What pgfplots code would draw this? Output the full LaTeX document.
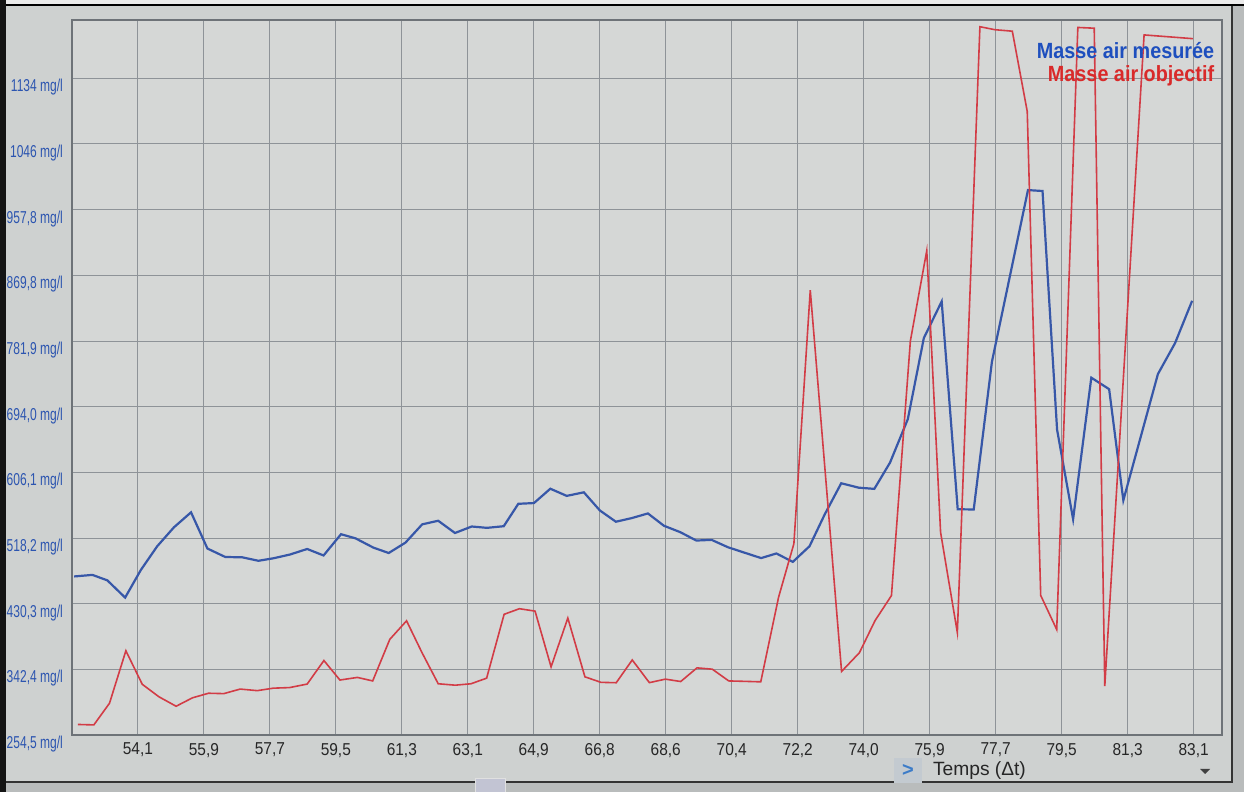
\documentclass[border=0pt]{standalone}
\usepackage{fontspec}
\setmainfont{Liberation Sans}
\usepackage{graphicx}
\usepackage{pgfplots}
\pgfplotsset{compat=1.18}
\definecolor{outerc}{HTML}{B9BCBC}
\definecolor{bgout}{HTML}{CED1D0}
\definecolor{bgplot}{HTML}{D5D7D6}
\definecolor{gridc}{HTML}{8E9398}
\definecolor{framec}{HTML}{6E7378}
\definecolor{lblue}{HTML}{3757A8}
\definecolor{tblue}{HTML}{1E4FBE}
\definecolor{lred}{HTML}{D23C46}
\definecolor{tred}{HTML}{D92A2A}
\definecolor{ylab}{HTML}{2C55B0}
\definecolor{chevbox}{HTML}{C3CAD0}
\definecolor{chev}{HTML}{3C7CC8}
\newcommand{\cy}[1]{\scalebox{0.7}[1]{#1}}
\newcommand{\cx}[1]{\scalebox{0.9}[1]{#1}}
\begin{document}
\begin{tikzpicture}[x=1pt,y=1pt]
\fill[outerc] (0,0) rectangle (622,396);
\useasboundingbox (0,0) rectangle (622,396);
\fill[bgout] (3,5) rectangle (616,393);
\fill[black!8] (0,394) rectangle (622,396);
\draw[black!80, line width=0.8pt] (3,5) -- (616,5) -- (616,393);
\draw[black, line width=1pt] (0,393.5) -- (622,393.5);
\fill[black!92] (0,0) rectangle (3,396);
\begin{axis}[
  at={(36pt,28.5pt)}, anchor=south west, scale only axis,
  width=575pt, height=357.5pt,
  xmin=52.29, xmax=83.88, ymin=254.5, ymax=1212,
  axis background/.style={fill=bgplot},
  axis line style={draw=framec, line width=0.7pt},
  grid=major,
  major grid style={draw=gridc, line width=0.45pt},
  major tick length=0pt,
  xtick={54.1,55.9125,57.725,59.5375,61.35,63.1625,64.975,66.7875,68.6,70.4125,72.225,74.0375,75.85,77.6625,79.475,81.2875,83.1},
  xticklabels={\cx{54,1},\cx{55,9},\cx{57,7},\cx{59,5},\cx{61,3},\cx{63,1},\cx{64,9},\cx{66,8},\cx{68,6},\cx{70,4},\cx{72,2},\cx{74,0},\cx{75,9},\cx{77,7},\cx{79,5},\cx{81,3},\cx{83,1}},
  ytick={254.5,342.4,430.3,518.2,606.1,694.0,781.9,869.8,957.8,1046,1134},
  yticklabels={\cy{254,5 mg/l},\cy{342,4 mg/l},\cy{430,3 mg/l},\cy{518,2 mg/l},\cy{606,1 mg/l},\cy{694,0 mg/l},\cy{781,9 mg/l},\cy{869,8 mg/l},\cy{957,8 mg/l},\cy{1046 mg/l},\cy{1134 mg/l}},
  xticklabel style={text=black!85, font=\fontsize{8.6}{9}\selectfont, yshift=-0.5pt},
  yticklabel style={text=ylab, font=\fontsize{8.6}{9}\selectfont, anchor=east, xshift=-1pt, yshift=-4.5pt},
  legend style={draw=none, fill=none, at={(0.997,0.975)}, anchor=north east,
    font=\bfseries\fontsize{11}{12}\selectfont, row sep=-2pt, inner sep=0pt},
  legend cell align=right,
  legend image code/.code={},
]
\addplot[lblue, line width=1.1pt] coordinates {
(52.35,466.8) (52.85,468.9) (53.26,461.6) (53.75,438.5) (54.18,475.4)
(54.63,507.2) (55.09,532.6) (55.56,552.7) (56.01,504.2) (56.50,492.9)
(56.97,492.4) (57.41,487.8) (57.83,491.2) (58.28,496.2) (58.75,503.6)
(59.20,494.9) (59.68,523.4) (60.08,517.8) (60.57,505.4) (60.99,498.2)
(61.45,512.1) (61.91,536.6) (62.35,541.4) (62.81,525.0) (63.27,533.7)
(63.69,531.9) (64.15,534.1) (64.55,564.1) (64.98,565.1) (65.43,584.3)
(65.88,574.7) (66.35,579.5) (66.79,555.2) (67.23,540.1) (67.67,545.0)
(68.11,551.2) (68.55,534.7) (69.00,526.1) (69.44,514.9) (69.86,515.8)
(70.31,505.9) (70.76,498.7) (71.22,491.4) (71.64,497.6) (72.09,486.3)
(72.55,507.3) (72.97,550.2) (73.42,591.6) (73.90,585.7) (74.33,584.1)
(74.76,619.2) (75.25,677.5) (75.69,786.1) (76.18,835.1) (76.62,556.8)
(77.06,556.5) (77.56,754.3) (78.55,984.2) (78.95,983.0) (79.35,663.3)
(79.79,543.5) (80.29,733.0) (80.78,717.6) (81.17,568.8) (82.12,737.9)
(82.59,779.2) (83.06,836.0)
};
\addlegendentry{\textcolor{tblue}{\scalebox{0.9}[1]{Masse air mesurée}}}
\addplot[lred, line width=0.8pt] coordinates {
(52.45,268.6) (52.89,268.0) (53.32,297.0) (53.77,367.3) (54.22,322.4)
(54.68,305.6) (55.15,293.0) (55.60,304.3) (56.04,310.4) (56.46,309.9)
(56.91,316.0) (57.38,313.9) (57.82,317.2) (58.27,318.0) (58.75,322.7)
(59.21,354.2) (59.65,328.1) (60.13,331.6) (60.55,326.9) (61.02,382.6)
(61.48,407.4) (61.90,365.2) (62.35,323.1) (62.82,321.2) (63.25,323.1)
(63.68,330.6) (64.16,416.1) (64.58,423.6) (65.01,420.4) (65.45,345.7)
(65.91,411.1) (66.38,332.4) (66.82,325.0) (67.24,324.5) (67.68,355.0)
(68.15,324.6) (68.59,329.3) (69.01,326.1) (69.46,344.4) (69.88,342.6)
(70.33,326.9) (70.79,326.3) (71.21,325.7) (71.70,439.1) (72.12,510.7)
(72.57,850.2) (73.43,339.6) (73.92,364.7) (74.35,407.7) (74.80,441.2)
(75.32,782.2) (75.77,903.1) (76.15,525.8) (76.61,391.7) (77.23,1203)
(77.64,1199) (78.12,1197) (78.53,1089.6) (78.90,441.4) (79.34,395.7)
(79.92,1202) (80.37,1201) (80.66,320.0) (81.74,1192) (83.08,1187)
};
\addlegendentry{\textcolor{tred}{\scalebox{0.9}[1]{Masse air objectif}}}
\end{axis}
\fill[chevbox] (447,4.5) rectangle (461,17);
\node[text=chev, font=\bfseries\fontsize{10}{10}\selectfont] at (454,10.5) {>};
\node[text=black!85, font=\fontsize{9.6}{10}\selectfont, anchor=west] at (463,10.5) {Temps (Δt)};
\fill[black!75] (600,11.5) -- (605,11.5) -- (602.5,9) -- cycle;
\filldraw[fill=bgout!94!blue, draw=black!12] (237.5,0) rectangle (252.5,7);
\end{tikzpicture}
\end{document}
